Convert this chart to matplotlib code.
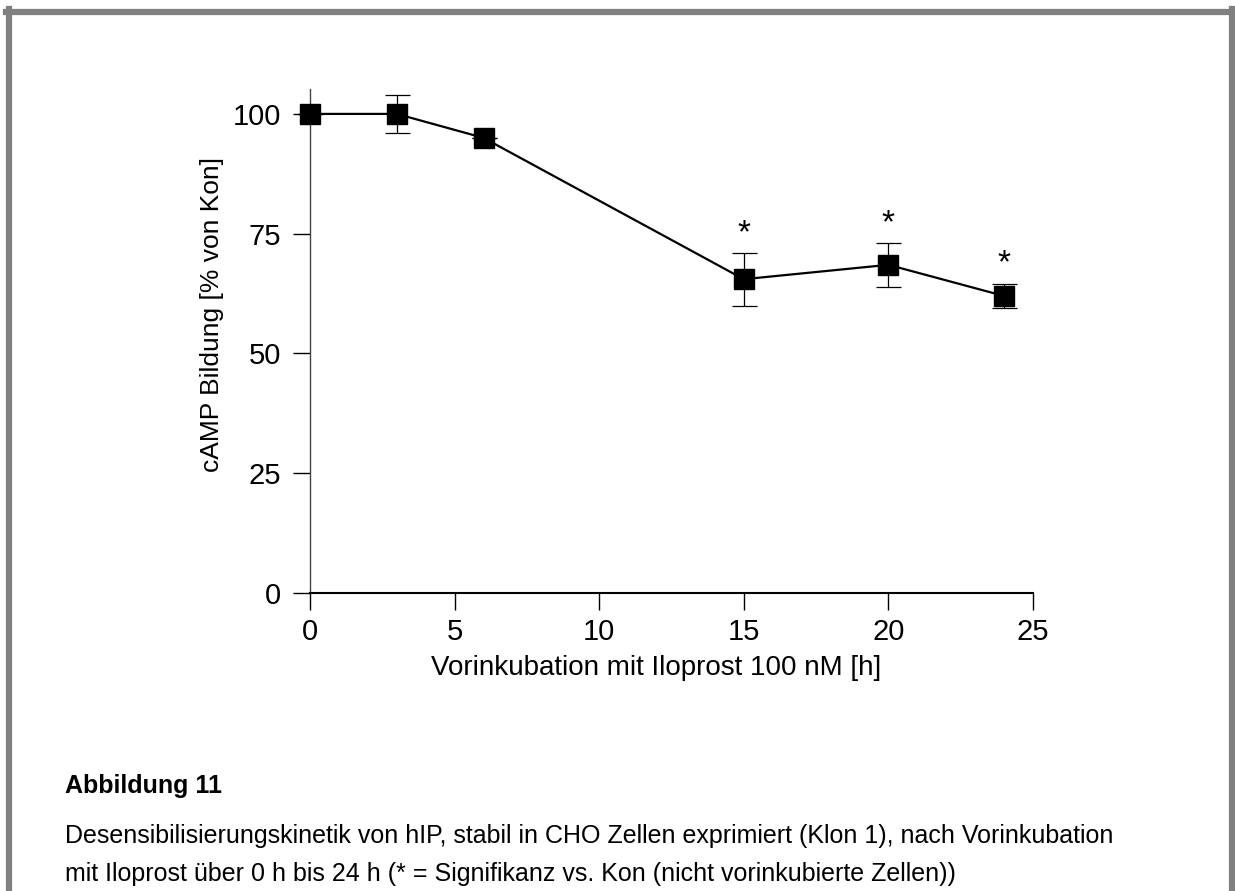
import numpy as np
import matplotlib
matplotlib.use("Agg")
import matplotlib.pyplot as plt
from matplotlib.lines import Line2D

plt.rcParams['font.family'] = ['Liberation Sans', 'DejaVu Sans']

# Daten
zeit = [0, 3, 6, 15, 20, 24]
camp = [100, 100, 95, 65.5, 68.5, 62]
fehler = [0, 4, 0, 5.5, 4.6, 2.6]
signifikant = [False, False, False, True, True, True]

x_ticks = [0, 5, 10, 15, 20, 25]
y_ticks = [0, 25, 50, 75, 100]

fig = plt.figure(figsize=(12.35, 8.91), dpi=100)
W, H = 1235, 891

ax = fig.add_axes([310 / W, 1 - 593 / H, (1033 - 310) / W, (593 - 89) / H])

ax.errorbar(zeit, camp, yerr=fehler, fmt='none', ecolor='black',
            elinewidth=0.9, capsize=9, capthick=0.9, clip_on=False, zorder=2)
ax.plot(zeit, camp, color='black', linewidth=1.6, marker='s', markersize=14,
        markerfacecolor='black', markeredgecolor='black', clip_on=False, zorder=3)

for x, y, e, s in zip(zeit, camp, fehler, signifikant):
    if s:
        ax.text(x, y + e + 0.8, '*', ha='center', va='bottom', fontsize=24)

ax.set_xlim(0, 25)
ax.set_ylim(0, 105.2)
ax.set_xticks(x_ticks)
ax.set_yticks(y_ticks)
ax.tick_params(axis='both', labelsize=21, length=12, width=1, direction='out',
               colors='black')
ax.tick_params(axis='y', pad=9)
ax.tick_params(axis='x', pad=6)

ax.spines['top'].set_visible(False)
ax.spines['right'].set_visible(False)
ax.spines['left'].set_color('#444444')
ax.spines['left'].set_linewidth(1)
ax.spines['bottom'].set_linewidth(1.5)

ax.set_xlabel('Vorinkubation mit Iloprost 100 nM [h]', fontsize=20)
ax.set_ylabel('cAMP Bildung [% von Kon]', fontsize=19)
ax.xaxis.set_label_coords((656 - 310) / 723, -(655 - 593) / 504)
ax.yaxis.set_label_coords(-(310 - 224) / 723, (593 - 315) / 504)

# Beschriftung
fig.text(65 / W, 1 - 786 / H, 'Abbildung 11', fontsize=18, fontweight='bold',
         ha='left', va='center')
fig.text(65 / W, 1 - 836 / H,
         'Desensibilisierungskinetik von hIP, stabil in CHO Zellen exprimiert (Klon 1), nach Vorinkubation',
         fontsize=18, ha='left', va='center')
fig.text(65 / W, 1 - 874 / H,
         'mit Iloprost über 0 h bis 24 h (* = Signifikanz vs. Kon (nicht vorinkubierte Zellen))',
         fontsize=18, ha='left', va='center')

# grauer Rahmen
grau = '#808080'
fig.add_artist(Line2D([8.5 / W, 8.5 / W], [0, 1 - 9 / H], transform=fig.transFigure,
                      color=grau, linewidth=4.5))
fig.add_artist(Line2D([1232 / W, 1232 / W], [0, 1 - 9 / H], transform=fig.transFigure,
                      color=grau, linewidth=4.5))
fig.add_artist(Line2D([6 / W, 1], [1 - 12 / H, 1 - 12 / H], transform=fig.transFigure,
                      color=grau, linewidth=4.5))

fig.savefig('out.png', dpi=100)
